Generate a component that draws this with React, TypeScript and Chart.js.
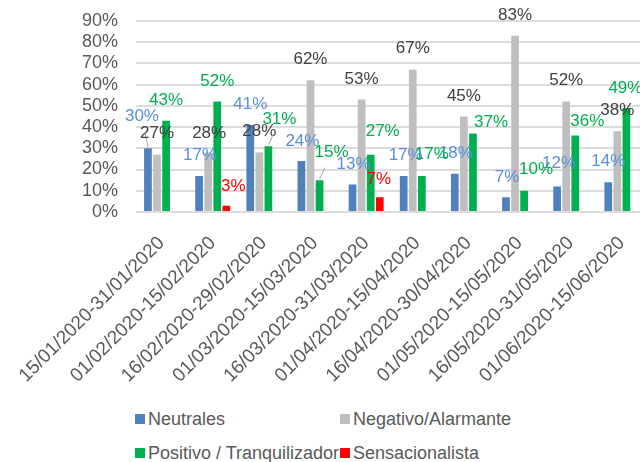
import React, { useEffect, useRef } from "react";
import { Chart, registerables } from "chart.js";

Chart.register(...registerables);

const categories = [
  "15/01/2020-31/01/2020",
  "01/02/2020-15/02/2020",
  "16/02/2020-29/02/2020",
  "01/03/2020-15/03/2020",
  "16/03/2020-31/03/2020",
  "01/04/2020-15/04/2020",
  "16/04/2020-30/04/2020",
  "01/05/2020-15/05/2020",
  "16/05/2020-31/05/2020",
  "01/06/2020-15/06/2020",
];
const seriesNames = ["Neutrales", "Negativo/Alarmante", "Positivo / Tranquilizador", "Sensacionalista"];
const neutrales = [30, 17, 41, 24, 13, 17, 18, 7, 12, 14];
const negativo = [27, 28, 28, 62, 53, 67, 45, 83, 52, 38];
const positivo = [43, 52, 31, 15, 27, 17, 37, 10, 36, 49];
const sensacionalista = [0, 3, 0, 0, 7, 0, 0, 0, 0, 0];
const yMin = 0;
const yMax = 90;
const yStep = 10;

const barColors = ["#4f81bd", "#bfbfbf", "#00b050", "#ff0000"];
const labelColors = ["#5b8fd8", "#404040", "#00b050", "#ff0000"];

// label offsets (dx, dy) from default position (centered, 20px above bar top)
const labelOffsets: number[][][] = [
  [[-6, -12], [1, -1], [0, -1], [1, 0], [1, 0], [2, -1], [1, 0], [1, 0], [2, -3], [0, -1]],
  [[0, -1], [1, 1], [0, -1], [0, -1], [0, 0], [0, -1], [0, 0], [0, 0], [0, -1], [0, -1]],
  [[0, 0], [0, 0], [11, -7], [12, -8], [12, -3], [10, -2], [18, 9], [12, -1], [12, 6], [-1, 0]],
  [[0, 0], [7, 1], [0, 0], [0, 0], [-1, 2], [0, 0], [0, 0], [0, 0], [0, 0], [0, 0]],
];
const leaderLines: number[][] = [[0, 0], [2, 2], [2, 3]]; // [series, category]

const FONT = "'Liberation Sans', Arial, sans-serif";

const dataLabelPlugin = {
  id: "dataLabels",
  afterDatasetsDraw(chart: any) {
    const ctx = chart.ctx;
    ctx.save();
    ctx.font = `17px ${FONT}`;
    ctx.textAlign = "center";
    ctx.textBaseline = "middle";
    chart.data.datasets.forEach((ds: any, si: number) => {
      const meta = chart.getDatasetMeta(si);
      meta.data.forEach((el: any, ci: number) => {
        const v = ds.data[ci];
        if (!v) return;
        const [dx, dy] = labelOffsets[si][ci];
        const lx = el.x + dx;
        const ly = el.y - 20 + dy;
        const isLeader = leaderLines.some(([s, c]) => s === si && c === ci);
        if (isLeader) {
          ctx.strokeStyle = "#a6a6a6";
          ctx.lineWidth = 1;
          ctx.beginPath();
          ctx.moveTo(el.x, el.y - 1);
          ctx.lineTo(el.x + (lx - el.x) * 0.45, el.y + (ly - el.y) * 0.45);
          ctx.stroke();
        }
        ctx.fillStyle = labelColors[si];
        ctx.fillText(`${v}%`, lx, ly);
      });
    });
    ctx.restore();
  },
};

export default function App() {
  const ref = useRef<HTMLCanvasElement | null>(null);
  useEffect(() => {
    if (!ref.current) return;
    const seriesData = [neutrales, negativo, positivo, sensacionalista];
    const chart = new Chart(ref.current, {
      type: "bar",
      data: {
        labels: categories,
        datasets: seriesData.map((d, i) => ({
          label: seriesNames[i],
          data: d,
          backgroundColor: barColors[i],
          categoryPercentage: 0.71,
          barPercentage: 0.85,
        })),
      },
      options: {
        responsive: false,
        animation: false,
        devicePixelRatio: 1,
        layout: { padding: { top: 2, left: 0, right: 0, bottom: 0 } },
        plugins: {
          legend: { display: false },
          tooltip: { enabled: false },
        },
        scales: {
          x: {
            grid: { display: false },
            border: { display: false },
            ticks: {
              color: "#595959",
              font: { family: FONT, size: 19 },
              minRotation: 45,
              maxRotation: 45,
              autoSkip: false,
              padding: 12,
            },
            afterFit: (scale: any) => {
              scale.height = 188;
            },
          },
          y: {
            min: yMin,
            max: yMax,
            border: { display: false },
            grid: { color: "#dcdcdc", lineWidth: 2, drawTicks: false },
            ticks: {
              stepSize: yStep,
              autoSkip: false,
              color: "#595959",
              font: { family: FONT, size: 18 },
              padding: 18,
              callback: (v: any) => `${v}%`,
            },
            afterFit: (scale: any) => {
              scale.width = 136;
            },
          },
        },
      },
      plugins: [dataLabelPlugin],
    } as any);
    return () => chart.destroy();
  }, []);

  const legendPos = [
    { left: 135, top: 419 },
    { left: 340, top: 419 },
    { left: 135, top: 453 },
    { left: 340, top: 453 },
  ];

  return (
    <div
      style={{
        position: "absolute",
        left: 0,
        top: 0,
        width: 640,
        height: 462,
        overflow: "hidden",
        background: "#fff",
      }}
    >
      <canvas ref={ref} width={650} height={408} style={{ position: "absolute", left: 0, top: -8 }} />
      {seriesNames.map((name, i) => (
        <div
          key={name}
          style={{
            position: "absolute",
            left: legendPos[i].left,
            top: legendPos[i].top - 11,
            height: 22,
            display: "flex",
            alignItems: "center",
            whiteSpace: "nowrap",
            fontFamily: FONT,
            fontSize: 18,
            color: "#595959",
          }}
        >
          <span style={{ display: "inline-block", width: 10, height: 10, background: barColors[i], marginRight: 3 }} />
          <span>{name}</span>
        </div>
      ))}
    </div>
  );
}
